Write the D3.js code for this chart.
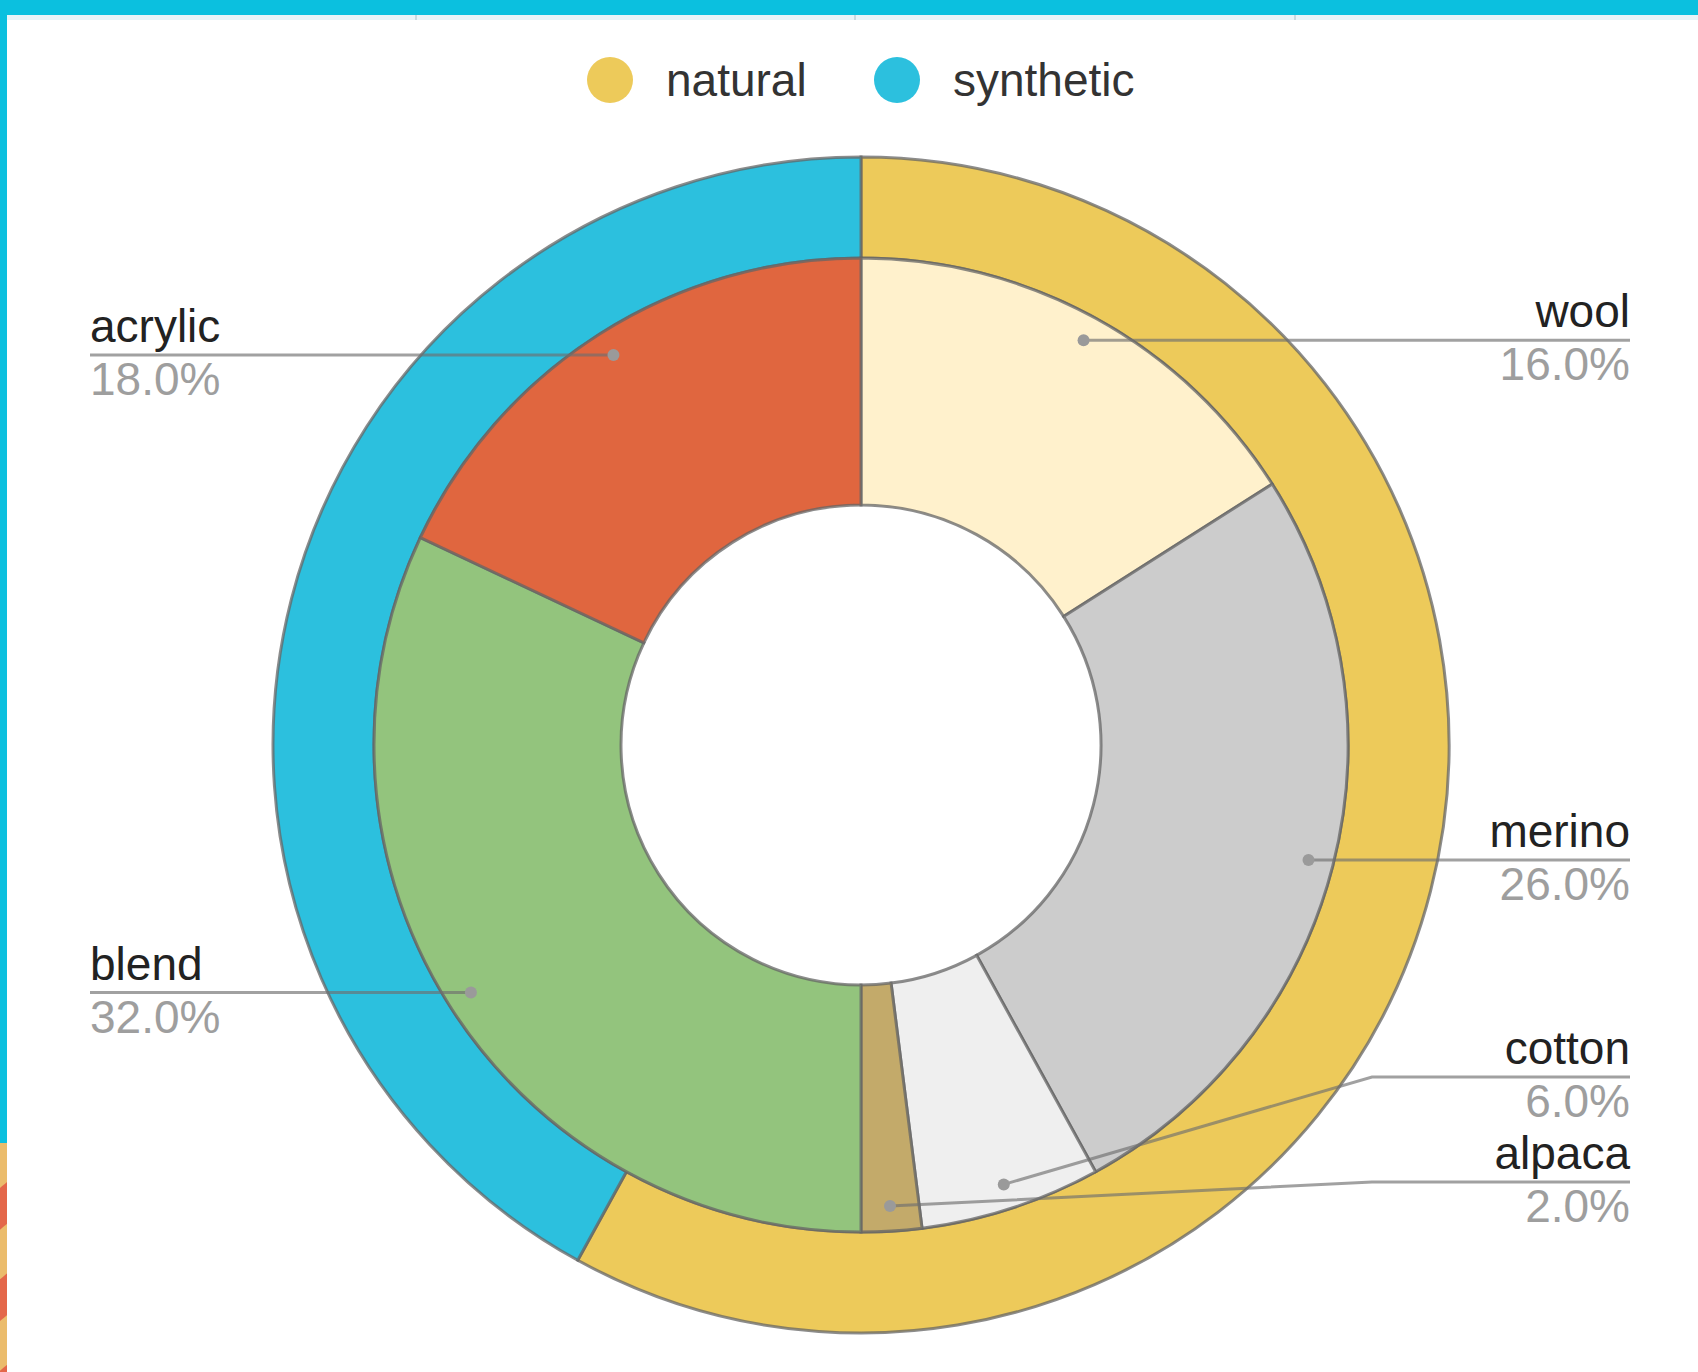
<!DOCTYPE html>
<html>
<head>
<meta charset="utf-8">
<script src="https://cdn.jsdelivr.net/npm/d3@7"></script>
<style>
	html, body { margin: 0; padding: 0; background: #fff; }
	svg { display: block; font-family: "Liberation Sans", Arial, sans-serif; }
</style>
</head>
<body>
<div id="chart"></div>
<script>
// outer ring
var groupNames = ["natural", "synthetic"];
var groupValues = [58, 42];
var groupColors = ["#EDCA5A", "#2CC0DE"];

// inner ring
var fibreNames = ["wool", "merino", "cotton", "alpaca", "blend", "acrylic"];
var fibreValues = [16, 26, 6, 2, 32, 18];
var fibreColors = ["#FFF1CC", "#CCCCCC", "#EFEFEF", "#C3AA6A", "#93C47D", "#E0663F"];

var width = 1698,
	height = 1372,
	cx = 861,
	cy = 745,
	rOuter = 588,
	rMid = 487,
	rHole = 240,
	rDot = 462,
	leftX = 90,
	rightX = 1630,
	elbowX = 1372,
	minGap = 105,
	maxY = 1182;

var svg = d3.select("#chart").append("svg")
	.attr("width", width)
	.attr("height", height);

// page frame
var defs = svg.append("defs");
var stripes = defs.append("pattern")
	.attr("id", "stripes")
	.attr("patternUnits", "userSpaceOnUse")
	.attr("width", 70)
	.attr("height", 70)
	.attr("patternTransform", "rotate(-40)");
stripes.append("rect").attr("width", 70).attr("height", 70).attr("fill", "#EBBC6C");
stripes.append("rect").attr("width", 70).attr("height", 32).attr("fill", "#E4674A");

svg.append("rect").attr("x", 0).attr("y", 15).attr("width", width).attr("height", 5).attr("fill", "#E9F4F8");
[415, 854, 1294].forEach(function (x) {
	svg.append("rect").attr("x", x).attr("y", 15).attr("width", 2).attr("height", 5).attr("fill", "#C9D9DF");
});
svg.append("rect").attr("x", 0).attr("y", 0).attr("width", width).attr("height", 15).attr("fill", "#0BC0DF");
svg.append("rect").attr("x", 0).attr("y", 0).attr("width", 7).attr("height", 1143).attr("fill", "#0BC0DF");
svg.append("rect").attr("x", 0).attr("y", 1143).attr("width", 7).attr("height", height - 1143).attr("fill", "url(#stripes)");

// legend
var legend = svg.append("g").attr("class", "legend");
var legendX = [610, 897];
groupNames.forEach(function (name, i) {
	legend.append("circle")
		.attr("cx", legendX[i]).attr("cy", 80).attr("r", 23)
		.attr("fill", groupColors[i]);
	legend.append("text")
		.attr("x", legendX[i] + 56).attr("y", 96)
		.attr("font-size", 46).attr("fill", "#333")
		.text(name);
});

var pie = d3.pie().sort(null).value(function (d) { return d; });
var g = svg.append("g").attr("transform", "translate(" + cx + "," + cy + ")");

var outerArc = d3.arc().innerRadius(rMid).outerRadius(rOuter);
var innerArc = d3.arc().innerRadius(rHole).outerRadius(rMid);

g.selectAll(".group")
	.data(pie(groupValues))
	.enter().append("path")
	.attr("class", "group")
	.attr("d", outerArc)
	.attr("fill", function (d, i) { return groupColors[i]; })
	.attr("stroke", "#666").attr("stroke-opacity", 0.75).attr("stroke-width", 3);

var fibreArcs = pie(fibreValues);
g.selectAll(".fibre")
	.data(fibreArcs)
	.enter().append("path")
	.attr("class", "fibre")
	.attr("d", innerArc)
	.attr("fill", function (d, i) { return fibreColors[i]; })
	.attr("stroke", "#666").attr("stroke-opacity", 0.75).attr("stroke-width", 3);

// labels
var total = d3.sum(fibreValues);
var pct = d3.format(".1%");
var labels = fibreArcs.map(function (d, i) {
	var mid = (d.startAngle + d.endAngle) / 2;
	var dx = cx + rDot * Math.sin(mid),
		dy = cy - rDot * Math.cos(mid);
	return { name: fibreNames[i], value: fibreValues[i], dotX: dx, dotY: dy, y: dy, right: mid < Math.PI };
});

// push right-hand labels up so they do not overlap
var rightLabels = labels.filter(function (l) { return l.right; })
	.sort(function (a, b) { return a.y - b.y; });
for (var i = rightLabels.length - 1; i >= 0; --i) {
	var lim = i == rightLabels.length - 1 ? maxY : rightLabels[i + 1].y - minGap;
	rightLabels[i].y = Math.min(rightLabels[i].y, lim);
}

var lab = svg.append("g").attr("class", "labels");
labels.forEach(function (l) {
	var endX = l.right ? rightX : leftX;
	var pts = [[l.dotX, l.dotY]];
	if (Math.abs(l.y - l.dotY) > 1) pts.push([elbowX, l.y]);
	pts.push([endX, l.y]);

	lab.append("path")
		.attr("d", d3.line()(pts))
		.attr("fill", "none")
		.attr("stroke", "#6f6f6f").attr("stroke-opacity", 0.65).attr("stroke-width", 3);
	lab.append("circle")
		.attr("cx", l.dotX).attr("cy", l.dotY).attr("r", 6)
		.attr("fill", "#9a9a9a");

	var anchor = l.right ? "end" : "start";
	lab.append("text")
		.attr("x", endX).attr("y", l.y - 13)
		.attr("text-anchor", anchor)
		.attr("font-size", 46).attr("fill", "#222")
		.text(l.name);
	lab.append("text")
		.attr("x", endX).attr("y", l.y + 40)
		.attr("text-anchor", anchor)
		.attr("font-size", 46).attr("fill", "#9e9e9e")
		.text(pct(l.value / total));
});
</script>
</body>
</html>
